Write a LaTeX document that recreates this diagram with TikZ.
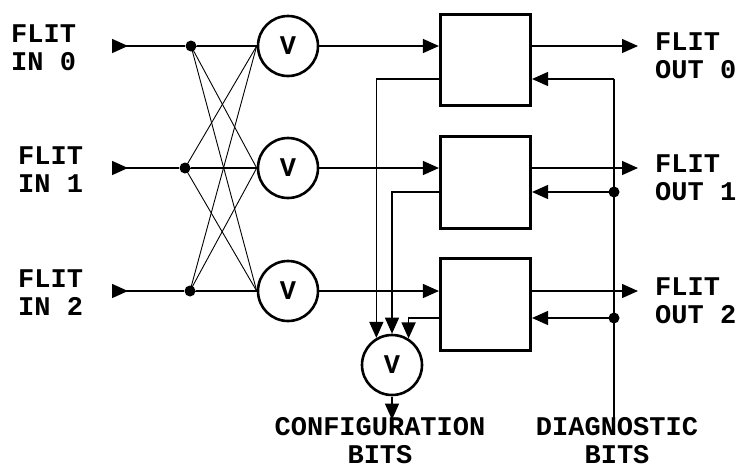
\documentclass[tikz,border=0pt]{standalone}
\usepackage{fontspec}
\setmainfont{Liberation Mono}
\usetikzlibrary{positioning,arrows.meta}

\begin{document}
\begin{tikzpicture}[x=1pt, y=-1pt,
    every node/.style={font=\bfseries\fontsize{27}{28}\selectfont},
    wire/.style={line width=1.4pt},
    xwire/.style={line width=0.9pt},
    tip/.style={-{Triangle[length=16pt,width=14pt]}},
    orgate/.style={circle,draw,line width=2.6pt,minimum size=60pt,inner sep=0pt},
    xbox/.style={draw,line width=2.6pt,minimum width=90.5pt,minimum height=91.5pt},
    joint/.style={circle,fill,minimum size=11pt,inner sep=0pt},
    lbl/.style={align=left,inner sep=0pt}]
  \useasboundingbox (0,0) rectangle (739,469);
  % the three flit rows
  \foreach \i/\y/\dx/\by/\fy/\lx in {0/46/191/60/79/11, 1/168/185/182.5/192/18, 2/291/190/304.5/318/18} {
    \coordinate (in\i) at (112,\y);
    \node[joint] (d\i) at (\dx,\y) {};
    \node[orgate] (v\i) at (288,\y) {V};
    \node[xbox] (b\i) at (485.5,\by) {};
    \coordinate (o\i) at (638,\y);
    \coordinate (f\i) at (614,\fy);
    \node[lbl,anchor=west] (l\i) at (\lx,\y+2) {FLIT\\IN \i};
    \node[lbl,anchor=west] (r\i) at (655,\y+10) {FLIT\\OUT \i};
  }
  \foreach \i in {0,1,2} {
    \draw[wire,{Triangle[reversed,length=16pt,width=14pt]}-] (in\i) -- (d\i);
    \draw[wire] (d\i) -- (v\i);
    \foreach \j in {0,1,2} \draw[xwire] (d\i.center) -- (v\j.west);
    \draw[wire,tip] (v\i) -- (b\i.west |- v\i);
    \draw[wire,tip] (b\i.east |- v\i) -- (o\i);
    \draw[wire,tip] (f\i) -- (b\i.east |- f\i);
  }
  % configuration bits
  \node[orgate] (cv) at (392,365) {V};
  \node[lbl,align=center] (cf) at (380,441) {CONFIGURATION\\BITS};
  \draw[wire,tip] (b0.west |- f0) -| (cv.120);
  \draw[wire,tip] (b1.west |- f1) -| (cv.north);
  \draw[wire,tip] (b2.west |- f2) -| (cv.58);
  \draw[wire,tip] ([yshift=-1pt]cv.south) -- ([yshift=-2pt]cv |- cf.north);
  % diagnostic bits
  \node[lbl,align=center] (dg) at (617,441) {DIAGNOSTIC\\BITS};
  \node[joint] (j1) at (f1) {};
  \node[joint] (j2) at (f2) {};
  \draw[wire] (f0) -- ([yshift=-4pt]f0 |- dg.north);
\end{tikzpicture}
\end{document}
